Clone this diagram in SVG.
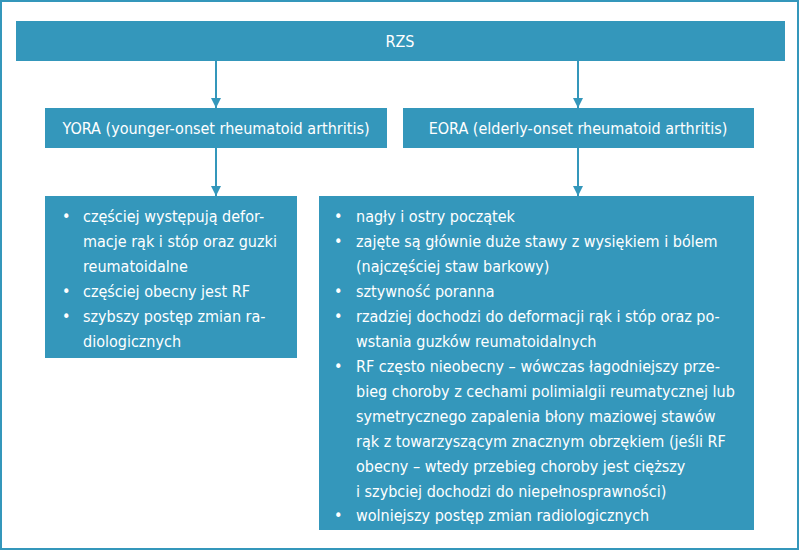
<svg xmlns="http://www.w3.org/2000/svg" width="800" height="551" viewBox="0 0 800 551">
<style>
.b{fill:#3497bb}
text{font-family:"Liberation Sans Narrow","DejaVu Sans Condensed","Roboto Condensed","Liberation Sans",sans-serif;font-stretch:condensed;font-size:16px;fill:#fff}
.c{stroke:#3497bb;stroke-width:2;fill:none}
</style>
<defs><marker id="a" markerWidth="12" markerHeight="12" refX="10" refY="5" orient="auto" markerUnits="userSpaceOnUse"><path d="M0,0L10,5L0,10z" fill="#3497bb"/></marker></defs>
<rect x="1" y="1" width="797" height="548" fill="#fff" stroke="#3497bb" stroke-width="2"/>
<g id="rzs"><rect class="b" x="16" y="21" width="769" height="40"/><text x="400" y="47" text-anchor="middle">RZS</text></g>
<g id="yora"><rect class="b" x="45" y="108" width="342" height="40"/><text x="216" y="134" text-anchor="middle">YORA (younger-onset rheumatoid arthritis)</text></g>
<g id="eora"><rect class="b" x="403" y="108" width="351" height="40"/><text x="578" y="134" text-anchor="middle">EORA (elderly-onset rheumatoid arthritis)</text></g>
<g id="yoralist"><rect class="b" x="45" y="196" width="252" height="162"/>
<text x="62" y="222">•</text><text x="83" y="222">częściej występują defor-</text>
<text x="83" y="247">macje rąk i stóp oraz guzki</text>
<text x="83" y="272">reumatoidalne</text>
<text x="62" y="297">•</text><text x="83" y="297">częściej obecny jest RF</text>
<text x="62" y="322">•</text><text x="83" y="322">szybszy postęp zmian ra-</text>
<text x="83" y="347">diologicznych</text></g>
<g id="eoralist"><rect class="b" x="319" y="196" width="435" height="334"/>
<text x="334" y="222">•</text><text x="356" y="222">nagły i ostry początek</text>
<text x="334" y="247">•</text><text x="356" y="247">zajęte są głównie duże stawy z wysiękiem i bólem</text>
<text x="356" y="272">(najczęściej staw barkowy)</text>
<text x="334" y="297">•</text><text x="356" y="297">sztywność poranna</text>
<text x="334" y="322">•</text><text x="356" y="322">rzadziej dochodzi do deformacji rąk i stóp oraz po-</text>
<text x="356" y="347">wstania guzków reumatoidalnych</text>
<text x="334" y="372">•</text><text x="356" y="372">RF często nieobecny –  wówczas łagodniejszy prze-</text>
<text x="356" y="397">bieg choroby z cechami polimialgii reumatycznej lub</text>
<text x="356" y="422">symetrycznego zapalenia błony maziowej stawów</text>
<text x="356" y="447">rąk z towarzyszącym znacznym obrzękiem (jeśli RF</text>
<text x="356" y="472">obecny – wtedy przebieg choroby jest cięższy</text>
<text x="356" y="497">i szybciej dochodzi do niepełnosprawności)</text>
<text x="334" y="521">•</text><text x="356" y="521">wolniejszy postęp zmian radiologicznych</text></g>
<g id="connectors" class="c">
<line x1="216" y1="61" x2="216" y2="108" marker-end="url(#a)"/>
<line x1="578" y1="61" x2="578" y2="108" marker-end="url(#a)"/>
<line x1="216" y1="148" x2="216" y2="196" marker-end="url(#a)"/>
<line x1="578" y1="148" x2="578" y2="196" marker-end="url(#a)"/>
</g>
</svg>
